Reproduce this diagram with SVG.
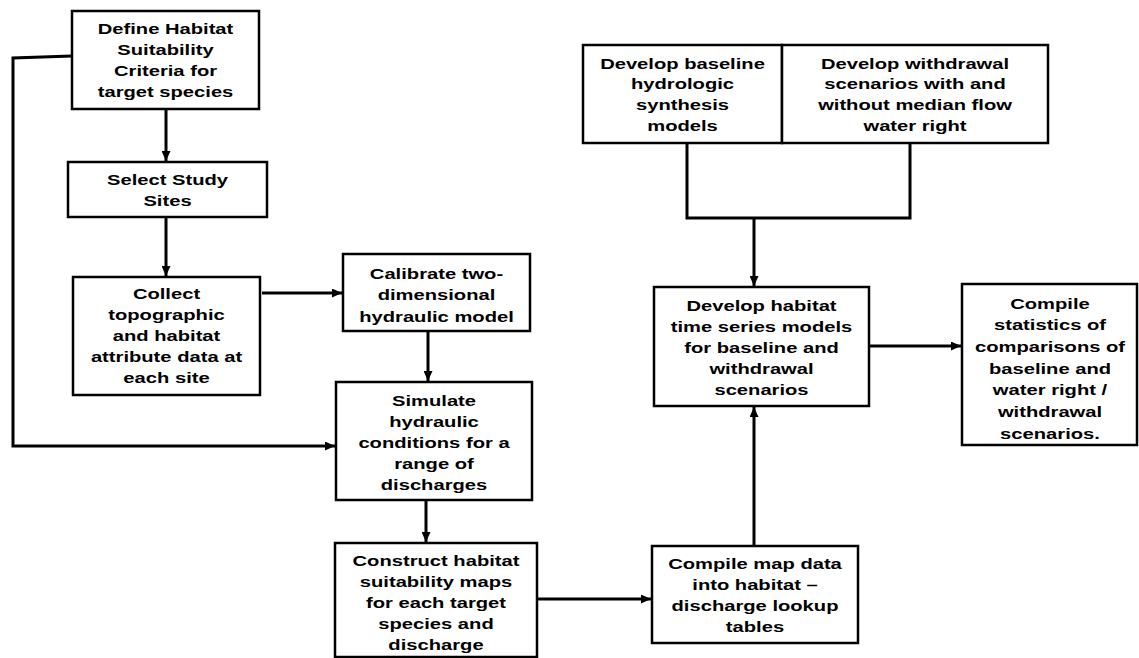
<svg xmlns="http://www.w3.org/2000/svg" width="1139" height="658" viewBox="0 0 1139 658">
<style>
.box{fill:#fff;stroke:#000;stroke-width:2.5}
.lbl{font-family:"Liberation Sans",Arial,sans-serif;font-weight:bold;font-size:15px;text-anchor:middle;fill:#000}
.con{fill:none;stroke:#000;stroke-width:3}
</style>
<defs>
<marker id="ah" markerUnits="userSpaceOnUse" markerWidth="10" markerHeight="9" refX="10" refY="4.5" orient="auto">
<path d="M0,0 L10,4.5 L0,9 z" fill="#000"/>
</marker>
</defs>
<rect width="1139" height="658" fill="#fff"/>
<g id="connectors">
<line class="con" x1="166" y1="110" x2="166" y2="161" marker-end="url(#ah)"/>
<line class="con" x1="166" y1="218" x2="166" y2="276" marker-end="url(#ah)"/>
<line class="con" x1="262" y1="293" x2="342" y2="293" marker-end="url(#ah)"/>
<line class="con" x1="428" y1="332" x2="428" y2="381" marker-end="url(#ah)"/>
<line class="con" x1="426" y1="501" x2="426" y2="542" marker-end="url(#ah)"/>
<line class="con" x1="538" y1="599" x2="651" y2="599" marker-end="url(#ah)"/>
<line class="con" x1="754" y1="545" x2="754" y2="407" marker-end="url(#ah)"/>
<line class="con" x1="870" y1="346" x2="961" y2="346" marker-end="url(#ah)"/>
<polyline class="con" points="72,56 13,58 13,446 335,446" marker-end="url(#ah)"/>
<polyline class="con" points="687,143 687,218 910,218 910,143"/>
<line class="con" x1="754" y1="218" x2="754" y2="286" marker-end="url(#ah)"/>
</g>
<g id="n1">
<rect class="box" x="72" y="11" width="187" height="98"/>
<text class="lbl" transform="translate(165.5,0) scale(1.345,1)"><tspan x="0" y="34">Define Habitat</tspan><tspan x="0" y="55">Suitability</tspan><tspan x="0" y="76">Criteria for</tspan><tspan x="0" y="97">target species</tspan></text>
</g>
<g id="n2">
<rect class="box" x="68" y="162" width="199" height="55"/>
<text class="lbl" transform="translate(167.5,0) scale(1.345,1)"><tspan x="0" y="185.5">Select Study</tspan><tspan x="0" y="206">Sites</tspan></text>
</g>
<g id="n3">
<rect class="box" x="73" y="277" width="187" height="118"/>
<text class="lbl" transform="translate(166.5,0) scale(1.345,1)"><tspan x="0" y="299">Collect</tspan><tspan x="0" y="320">topographic</tspan><tspan x="0" y="341">and habitat</tspan><tspan x="0" y="362">attribute data at</tspan><tspan x="0" y="383">each site</tspan></text>
</g>
<g id="n4">
<rect class="box" x="343" y="254" width="187" height="77"/>
<text class="lbl" transform="translate(436.5,0) scale(1.345,1)"><tspan x="0" y="279">Calibrate two-</tspan><tspan x="0" y="300.5">dimensional</tspan><tspan x="0" y="322">hydraulic model</tspan></text>
</g>
<g id="n5">
<rect class="box" x="336" y="382" width="196" height="118"/>
<text class="lbl" transform="translate(434,0) scale(1.345,1)"><tspan x="0" y="406">Simulate</tspan><tspan x="0" y="427">hydraulic</tspan><tspan x="0" y="448">conditions for a</tspan><tspan x="0" y="469">range of</tspan><tspan x="0" y="490">discharges</tspan></text>
</g>
<g id="n6">
<rect class="box" x="335" y="543" width="202" height="114"/>
<text class="lbl" transform="translate(436,0) scale(1.345,1)"><tspan x="0" y="566">Construct habitat</tspan><tspan x="0" y="587">suitability maps</tspan><tspan x="0" y="608">for each target</tspan><tspan x="0" y="629">species and</tspan><tspan x="0" y="650">discharge</tspan></text>
</g>
<g id="n7">
<rect class="box" x="652" y="546" width="206" height="97"/>
<text class="lbl" transform="translate(755,0) scale(1.345,1)"><tspan x="0" y="569">Compile map data</tspan><tspan x="0" y="590">into habitat –</tspan><tspan x="0" y="611">discharge lookup</tspan><tspan x="0" y="632">tables</tspan></text>
</g>
<g id="n8">
<rect class="box" x="583" y="45" width="199" height="98"/>
<text class="lbl" transform="translate(682.5,0) scale(1.345,1)"><tspan x="0" y="69">Develop baseline</tspan><tspan x="0" y="89.5">hydrologic</tspan><tspan x="0" y="110.5">synthesis</tspan><tspan x="0" y="131.5">models</tspan></text>
</g>
<g id="n9">
<rect class="box" x="782" y="45" width="266" height="98"/>
<text class="lbl" transform="translate(915,0) scale(1.345,1)"><tspan x="0" y="69">Develop withdrawal</tspan><tspan x="0" y="89.5">scenarios with and</tspan><tspan x="0" y="110.5">without median flow</tspan><tspan x="0" y="131.5">water right</tspan></text>
</g>
<g id="n10">
<rect class="box" x="654" y="287" width="215" height="119"/>
<text class="lbl" transform="translate(761.5,0) scale(1.345,1)"><tspan x="0" y="311">Develop habitat</tspan><tspan x="0" y="332">time series models</tspan><tspan x="0" y="353">for baseline and</tspan><tspan x="0" y="374">withdrawal</tspan><tspan x="0" y="395">scenarios</tspan></text>
</g>
<g id="n11">
<rect class="box" x="962" y="284" width="175" height="161"/>
<text class="lbl" transform="translate(1050,0) scale(1.345,1)"><tspan x="0" y="309">Compile</tspan><tspan x="0" y="330.5">statistics of</tspan><tspan x="0" y="352">comparisons of</tspan><tspan x="0" y="374">baseline and</tspan><tspan x="0" y="395.5">water right /</tspan><tspan x="0" y="417">withdrawal</tspan><tspan x="0" y="439">scenarios.</tspan></text>
</g>
</svg>
